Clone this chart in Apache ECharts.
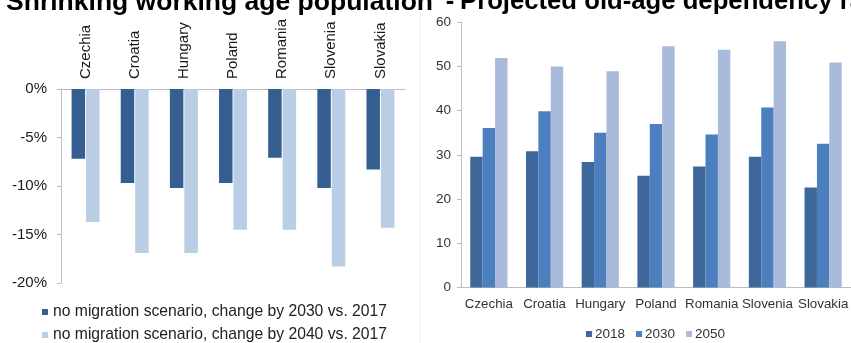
<!DOCTYPE html>
<html>
<head>
<meta charset="utf-8">
<script src="https://cdn.jsdelivr.net/npm/echarts/dist/echarts.min.js"></script>
<style>
  html, body { margin: 0; padding: 0; background: #fff; }
  #chart { width: 851px; height: 343px; }
</style>
</head>
<body>
<div id="chart"></div>
<script>
// Countries shared by both panels
const countries = ['Czechia', 'Croatia', 'Hungary', 'Poland', 'Romania', 'Slovenia', 'Slovakia'];

// Left panel: working-age population change, no migration scenario (%)
const change2030Name = 'no migration scenario, change by 2030 vs. 2017';
const change2040Name = 'no migration scenario, change by 2040 vs. 2017';
const change2030 = [-7.2, -9.7, -10.2, -9.7, -7.1, -10.2, -8.3];
const change2040 = [-13.7, -16.9, -16.9, -14.5, -14.5, -18.3, -14.3];

// Right panel: old-age dependency ratio
const ratioYears = ['2018', '2030', '2050'];
const ratio2018 = [29.6, 30.8, 28.4, 25.3, 27.4, 29.6, 22.6];
const ratio2030 = [36.1, 39.9, 35.0, 37.0, 34.6, 40.7, 32.5];
const ratio2050 = [51.9, 50.0, 48.9, 54.6, 53.8, 55.7, 50.9];

const leftHeadline = 'Shrinking working age population';
const rightHeadline = 'Projected old-age dependency ratio';

const FONT = '"Liberation Sans", Arial, sans-serif';
const AXIS_GREY = '#bcbcbc';

const chart = echarts.init(document.getElementById('chart'), null, { renderer: 'canvas' });

// shared look of the legends
function legendBase(extra) {
  return Object.assign({
    orient: 'horizontal',
    icon: 'rect',
    itemWidth: 6,
    itemHeight: 6,
    padding: 0
  }, extra);
}

// headline texts sit partly above the top edge of the canvas
function headline(text, x, align, size) {
  return {
    type: 'text',
    x: x,
    y: -11,
    style: {
      text: text,
      font: '700 ' + size + 'px ' + FONT,
      fill: '#000000',
      align: align,
      verticalAlign: 'top'
    }
  };
}

chart.setOption({
  animation: false,
  backgroundColor: '#ffffff',
  textStyle: { fontFamily: FONT },
  graphic: [
    headline(leftHeadline, 433, 'right', 26.5),
    headline('-', 450, 'center', 25.7),
    headline(rightHeadline, 460, 'left', 25.7),
    {
      type: 'line',
      shape: { x1: 420, y1: 12, x2: 420, y2: 343 },
      style: { stroke: '#eeeeee', lineWidth: 1 }
    }
  ],
  legend: [
    legendBase({
      data: [change2030Name],
      left: 42,
      top: 304,
      textStyle: { fontSize: 15.7, color: '#222222', fontFamily: FONT }
    }),
    legendBase({
      data: [change2040Name],
      left: 42,
      top: 327,
      textStyle: { fontSize: 15.7, color: '#222222', fontFamily: FONT }
    }),
    legendBase({
      data: ratioYears,
      left: 586,
      top: 327,
      itemGap: 11,
      textStyle: { fontSize: 13.5, color: '#333333', fontFamily: FONT, padding: [0, 0, 0, -2] }
    })
  ],
  grid: [
    { left: 61, top: 89, width: 344, height: 194 },
    { left: 461, top: 22.3, width: 397, height: 265.2 }
  ],
  xAxis: [
    {
      gridIndex: 0,
      type: 'category',
      position: 'top',
      data: countries,
      axisLine: { lineStyle: { color: AXIS_GREY } },
      axisTick: { inside: true, length: 4, lineStyle: { color: AXIS_GREY } },
      axisLabel: { rotate: 90, margin: 10, fontSize: 15, color: '#1a1a1a', fontFamily: FONT }
    },
    {
      gridIndex: 1,
      type: 'category',
      data: countries,
      axisLine: { lineStyle: { color: AXIS_GREY } },
      axisTick: { length: 5, lineStyle: { color: AXIS_GREY } },
      axisLabel: { margin: 10, fontSize: 13.3, color: '#333333', fontFamily: FONT, interval: 0 }
    }
  ],
  yAxis: [
    {
      gridIndex: 0,
      type: 'value',
      min: -20,
      max: 0,
      interval: 5,
      axisLine: { show: true, lineStyle: { color: AXIS_GREY } },
      axisTick: { show: true, length: 4, lineStyle: { color: AXIS_GREY } },
      splitLine: { show: false },
      axisLabel: { margin: 14, fontSize: 15, color: '#1a1a1a', fontFamily: FONT, formatter: '{value}%' }
    },
    {
      gridIndex: 1,
      type: 'value',
      min: 0,
      max: 60,
      interval: 10,
      axisLine: { show: true, lineStyle: { color: AXIS_GREY } },
      axisTick: { show: true, length: 4, lineStyle: { color: AXIS_GREY } },
      splitLine: { show: false },
      axisLabel: { margin: 10, fontSize: 13.5, color: '#333333', fontFamily: FONT }
    }
  ],
  series: [
    {
      name: change2030Name, type: 'bar', xAxisIndex: 0, yAxisIndex: 0,
      data: change2030, barWidth: 13.5, barGap: '7%',
      itemStyle: { color: '#365f91' }
    },
    {
      name: change2040Name, type: 'bar', xAxisIndex: 0, yAxisIndex: 0,
      data: change2040, barWidth: 13.5, barGap: '7%',
      itemStyle: { color: '#b9cde5' }
    },
    {
      name: ratioYears[0], type: 'bar', xAxisIndex: 1, yAxisIndex: 1,
      data: ratio2018, barWidth: 12.4, barGap: '0%',
      itemStyle: { color: '#3e6899' }
    },
    {
      name: ratioYears[1], type: 'bar', xAxisIndex: 1, yAxisIndex: 1,
      data: ratio2030, barWidth: 12.4, barGap: '0%',
      itemStyle: { color: '#4c7fbd' }
    },
    {
      name: ratioYears[2], type: 'bar', xAxisIndex: 1, yAxisIndex: 1,
      data: ratio2050, barWidth: 12.4, barGap: '0%',
      itemStyle: { color: '#a9badb' }
    }
  ]
});
</script>
</body>
</html>
